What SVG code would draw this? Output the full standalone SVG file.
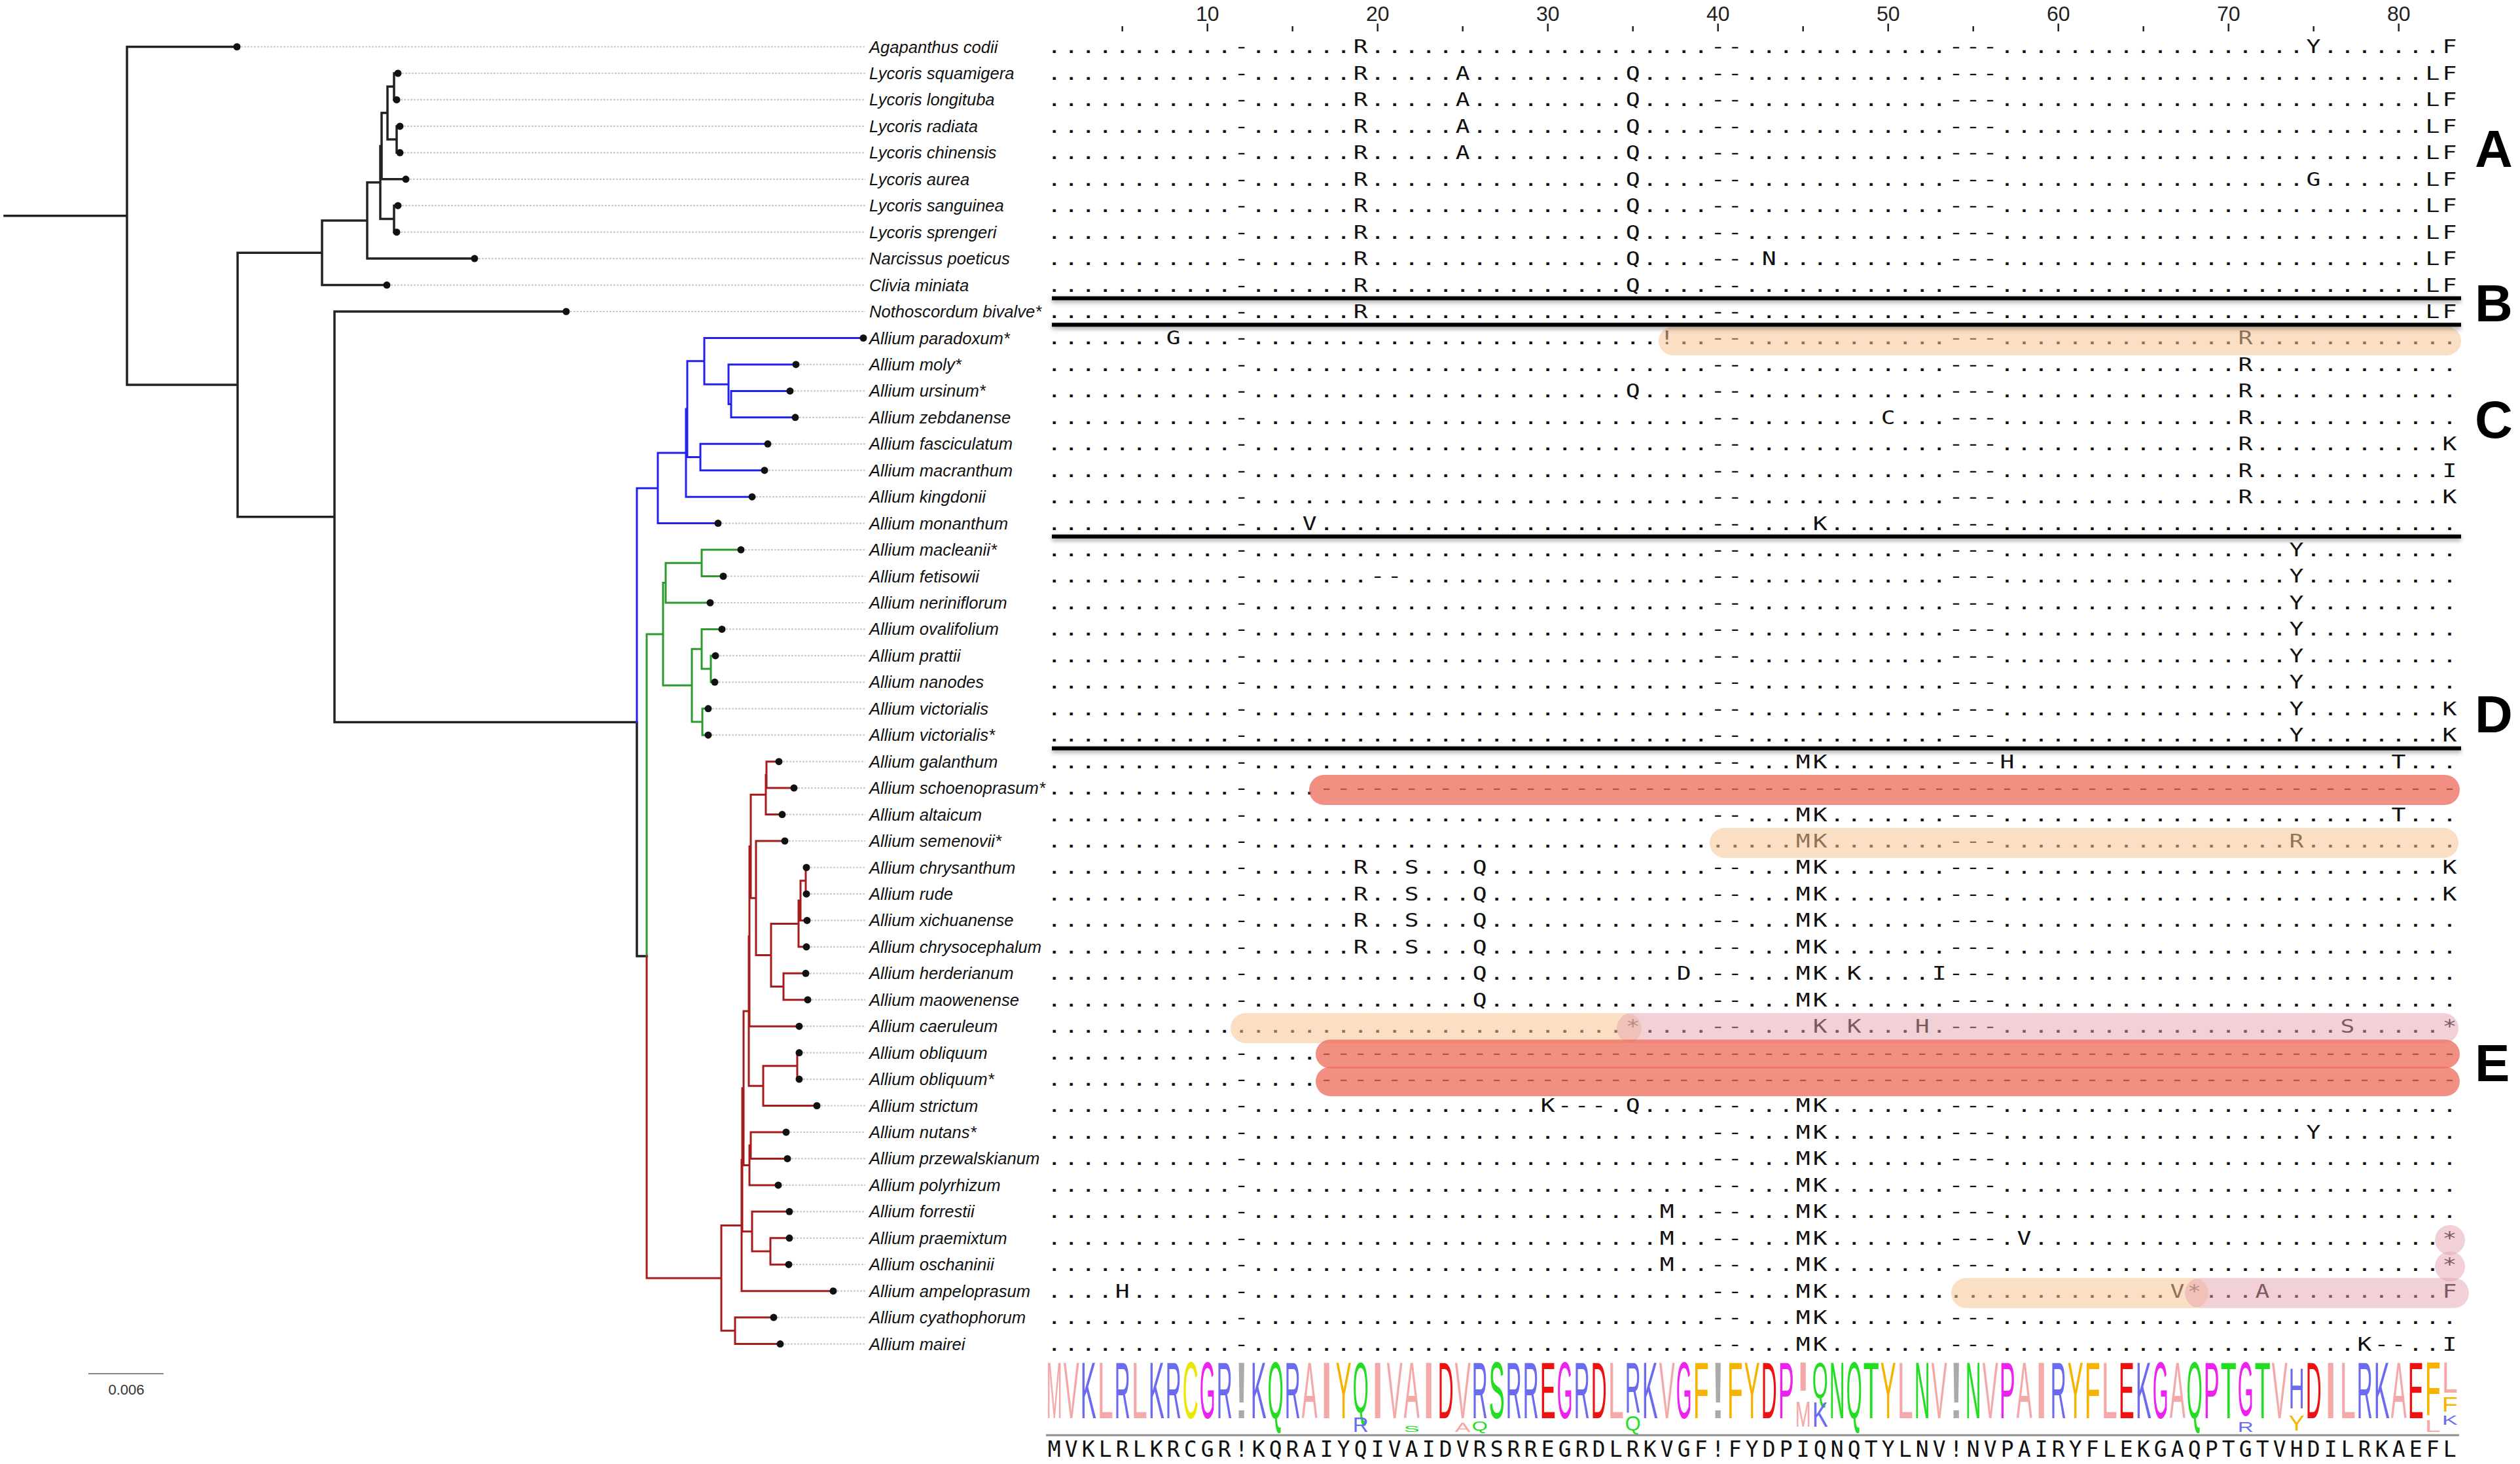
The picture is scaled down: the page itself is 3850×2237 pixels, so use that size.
<svg xmlns="http://www.w3.org/2000/svg" width="3850" height="2237" viewBox="0 0 3850 2237">
<defs>
<style>
.lab{font-family:"Liberation Sans",Arial,sans-serif;font-style:italic;font-size:25.6px;fill:#111}
.aln{font-family:"DejaVu Sans Mono",monospace;font-size:28px;letter-spacing:3.143px;fill:#111}
.num{font-family:"Liberation Sans",Arial,sans-serif;font-size:32px;fill:#222;text-anchor:middle}
.grp{font-family:"Liberation Sans",Arial,sans-serif;font-weight:bold;font-size:80px;fill:#000}
.lg{font-family:"Liberation Sans",Arial,sans-serif;font-size:24px}
.p{fill:#F5A8A8}.b{fill:#6B6BEF}.y{fill:#E8E800}.o{fill:#F5B400}.m{fill:#EE22EE}.r{fill:#EE1111}.g{fill:#22DD22}.x{fill:#AAAAAA}
.cons{font-family:"DejaVu Sans Mono",monospace;font-size:33px;letter-spacing:6.132px;fill:#111}
.pe{fill:#F7C594;fill-opacity:.55}
.pk{fill:#E3A3AE;fill-opacity:.5}
.rd{fill:#EC6B58;fill-opacity:.75}
.tip{fill:#111}
</style>
<filter id="sh" x="-2%" y="-20%" width="104%" height="140%"><feGaussianBlur stdDeviation="3"/></filter>
</defs>
<rect width="3850" height="2237" fill="#fff"/>

<g id="connectors" fill="none">
<path id="leaders" stroke="#cccccc" stroke-width="2.2" stroke-dasharray="3 2" d="M368,71.5H1322M614,112H1322M612,152.4H1322M617,192.9H1322M617,233.3H1322M626,273.8H1322M614,314.2H1322M612,354.7H1322M731,395.1H1322M597,435.6H1322M871,476H1322M1222,556.9H1322M1213,597.4H1322M1221,637.8H1322M1179,678.3H1322M1174,718.7H1322M1155,759.2H1322M1103,799.6H1322M1138,840.1H1322M1111,880.5H1322M1091,921H1322M1109,961.4H1322M1099,1001.9H1322M1098,1042.3H1322M1088,1082.8H1322M1088,1123.2H1322M1196,1163.7H1322M1219,1204.1H1322M1201,1244.6H1322M1205,1285H1322M1238,1325.5H1322M1238,1365.9H1322M1239,1406.4H1322M1238,1446.8H1322M1237,1487.3H1322M1240,1527.7H1322M1227,1568.2H1322M1227,1608.6H1322M1227,1649.1H1322M1254,1689.5H1322M1207,1730H1322M1209,1770.4H1322M1195,1810.9H1322M1212,1851.3H1322M1212,1891.8H1322M1211,1932.2H1322M1279,1972.7H1322M1188,2013.1H1322M1198,2053.6H1322"/>
<g stroke-linecap="square" stroke-linejoin="miter">
<path stroke="#222" stroke-width="3.5" d="M7,329.8H194M362,71.5H194V588H363M492,386.3H363V789.7H511M561,337H492V435.6H591M581,278.8H561V395.1H725M583,223.2H581V334.4H602M592,172.6H583V273.8H620M602,132.2H592V213.1H606M608,112H602V152.4H606M611,192.9H606V233.3H611M608,314.2H602V354.7H606M865,476H511V1103.4H973M973,1103.4V1460.9H988"/>
<path stroke="#2222EE" stroke-width="3" d="M973,1103.4V745.9H1005M1048,692.1H1005V799.6H1097M1050,625.1H1048V759.2H1149M1076,551.8H1050V698.5H1070M1319,516.5H1076V587.2H1113M1216,556.9H1113V617.6H1117M1207,597.4H1117V637.8H1215M1173,678.3H1070V718.7H1168"/>
<path stroke="#2E9A2E" stroke-width="3" d="M988,1460.9V968.9H1013M1017,890.6H1013V1047.3H1057M1072,860.3H1017V921H1085M1132,840.1H1072V880.5H1105M1072,991.7H1057V1103H1073M1103,961.4H1072V1022.1H1086M1093,1001.9H1086V1042.3H1092M1082,1082.8H1073V1123.2H1082"/>
<path stroke="#A61C1C" stroke-width="3" d="M988,1460.9V1952.9H1102M1133,1872.4H1102V2033.3H1123M1182,2013.1H1123V2053.6H1192M1134,1772.2H1133V1972.7H1273M1136,1662.8H1134V1881.7H1149M1206,1851.3H1149V1912H1177M1206,1891.8H1177V1932.2H1205M1144,1545H1136V1780.5H1145M1147,1750.2H1145V1810.9H1189M1201,1730H1147V1770.4H1203M1145,1430.7H1144V1659.2H1166M1218,1628.8H1166V1689.5H1248M1221,1608.6H1218V1649.1H1221M1147,1293.2H1145V1568.2H1221M1170,1214.2H1147V1372.2H1155M1199,1285H1155V1459.4H1178M1220,1411.4H1178V1507.5H1197M1231,1487.3H1197V1527.7H1234M1223,1376H1220V1446.8H1232M1231,1345.7H1223V1406.4H1233M1232,1325.5H1231V1365.9H1232M1171,1183.9H1170V1244.6H1195M1190,1163.7H1171V1204.1H1213"/>
</g>
</g>

<g id="header">
<path stroke="#222" stroke-width="2.5" fill="none" d="M1714.7,40V48M1844.7,36V48M1974.7,40V48M2104.7,36V48M2234.7,40V48M2364.7,36V48M2494.7,40V48M2624.7,36V48M2754.7,40V48M2884.7,36V48M3014.7,40V48M3144.7,36V48M3274.7,40V48M3404.7,36V48M3534.7,40V48M3664.7,36V48"/>
<text class="num" x="1844.7" y="32">10</text>
<text class="num" x="2104.7" y="32">20</text>
<text class="num" x="2364.7" y="32">30</text>
<text class="num" x="2624.7" y="32">40</text>
<text class="num" x="2884.7" y="32">50</text>
<text class="num" x="3144.7" y="32">60</text>
<text class="num" x="3404.7" y="32">70</text>
<text class="num" x="3664.7" y="32">80</text>
</g>

<g id="taxa">
<g id="t01"><circle class="tip" cx="362" cy="71.5" r="5.5"/><text class="lab" x="1328" y="80.5">Agapanthus codii</text><text class="aln" transform="scale(1.3,1)" x="1230.57" y="81.5">...........-......R....................--............---..................Y.......F</text></g>
<g id="t02"><circle class="tip" cx="608" cy="112" r="5.5"/><text class="lab" x="1328" y="121">Lycoris squamigera</text><text class="aln" transform="scale(1.3,1)" x="1230.57" y="122">...........-......R.....A.........Q....--............---.........................LF</text></g>
<g id="t03"><circle class="tip" cx="606" cy="152.4" r="5.5"/><text class="lab" x="1328" y="161.4">Lycoris longituba</text><text class="aln" transform="scale(1.3,1)" x="1230.57" y="162.4">...........-......R.....A.........Q....--............---.........................LF</text></g>
<g id="t04"><circle class="tip" cx="611" cy="192.9" r="5.5"/><text class="lab" x="1328" y="201.9">Lycoris radiata</text><text class="aln" transform="scale(1.3,1)" x="1230.57" y="202.9">...........-......R.....A.........Q....--............---.........................LF</text></g>
<g id="t05"><circle class="tip" cx="611" cy="233.3" r="5.5"/><text class="lab" x="1328" y="242.3">Lycoris chinensis</text><text class="aln" transform="scale(1.3,1)" x="1230.57" y="243.3">...........-......R.....A.........Q....--............---.........................LF</text></g>
<g id="t06"><circle class="tip" cx="620" cy="273.8" r="5.5"/><text class="lab" x="1328" y="282.8">Lycoris aurea</text><text class="aln" transform="scale(1.3,1)" x="1230.57" y="283.8">...........-......R...............Q....--............---..................G......LF</text></g>
<g id="t07"><circle class="tip" cx="608" cy="314.2" r="5.5"/><text class="lab" x="1328" y="323.2">Lycoris sanguinea</text><text class="aln" transform="scale(1.3,1)" x="1230.57" y="324.2">...........-......R...............Q....--............---.........................LF</text></g>
<g id="t08"><circle class="tip" cx="606" cy="354.7" r="5.5"/><text class="lab" x="1328" y="363.7">Lycoris sprengeri</text><text class="aln" transform="scale(1.3,1)" x="1230.57" y="364.7">...........-......R...............Q....--............---.........................LF</text></g>
<g id="t09"><circle class="tip" cx="725" cy="395.1" r="5.5"/><text class="lab" x="1328" y="404.1">Narcissus poeticus</text><text class="aln" transform="scale(1.3,1)" x="1230.57" y="405.1">...........-......R...............Q....--.N..........---.........................LF</text></g>
<g id="t10"><circle class="tip" cx="591" cy="435.6" r="5.5"/><text class="lab" x="1328" y="444.6">Clivia miniata</text><text class="aln" transform="scale(1.3,1)" x="1230.57" y="445.6">...........-......R...............Q....--............---.........................LF</text></g>
<g id="t11"><circle class="tip" cx="865" cy="476" r="5.5"/><text class="lab" x="1328" y="485">Nothoscordum bivalve*</text><text class="aln" transform="scale(1.3,1)" x="1230.57" y="486">...........-......R....................--............---.........................LF</text></g>
<g id="t12"><circle class="tip" cx="1319" cy="516.5" r="5.5"/><text class="lab" x="1328" y="525.5">Allium paradoxum*</text><text class="aln" transform="scale(1.3,1)" x="1230.57" y="526.5">.......G...-........................!..--............---..............R............</text></g>
<g id="t13"><circle class="tip" cx="1216" cy="556.9" r="5.5"/><text class="lab" x="1328" y="565.9">Allium moly*</text><text class="aln" transform="scale(1.3,1)" x="1230.57" y="566.9">...........-...........................--............---..............R............</text></g>
<g id="t14"><circle class="tip" cx="1207" cy="597.4" r="5.5"/><text class="lab" x="1328" y="606.4">Allium ursinum*</text><text class="aln" transform="scale(1.3,1)" x="1230.57" y="607.4">...........-......................Q....--............---..............R............</text></g>
<g id="t15"><circle class="tip" cx="1215" cy="637.8" r="5.5"/><text class="lab" x="1328" y="646.8">Allium zebdanense</text><text class="aln" transform="scale(1.3,1)" x="1230.57" y="647.8">...........-...........................--........C...---..............R............</text></g>
<g id="t16"><circle class="tip" cx="1173" cy="678.3" r="5.5"/><text class="lab" x="1328" y="687.3">Allium fasciculatum</text><text class="aln" transform="scale(1.3,1)" x="1230.57" y="688.3">...........-...........................--............---..............R...........K</text></g>
<g id="t17"><circle class="tip" cx="1168" cy="718.7" r="5.5"/><text class="lab" x="1328" y="727.7">Allium macranthum</text><text class="aln" transform="scale(1.3,1)" x="1230.57" y="728.7">...........-...........................--............---..............R...........I</text></g>
<g id="t18"><circle class="tip" cx="1149" cy="759.2" r="5.5"/><text class="lab" x="1328" y="768.2">Allium kingdonii</text><text class="aln" transform="scale(1.3,1)" x="1230.57" y="769.2">...........-...........................--............---..............R...........K</text></g>
<g id="t19"><circle class="tip" cx="1097" cy="799.6" r="5.5"/><text class="lab" x="1328" y="808.6">Allium monanthum</text><text class="aln" transform="scale(1.3,1)" x="1230.57" y="809.6">...........-...V.......................--....K.......---...........................</text></g>
<g id="t20"><circle class="tip" cx="1132" cy="840.1" r="5.5"/><text class="lab" x="1328" y="849.1">Allium macleanii*</text><text class="aln" transform="scale(1.3,1)" x="1230.57" y="850.1">...........-...........................--............---.................Y.........</text></g>
<g id="t21"><circle class="tip" cx="1105" cy="880.5" r="5.5"/><text class="lab" x="1328" y="889.5">Allium fetisowii</text><text class="aln" transform="scale(1.3,1)" x="1230.57" y="890.5">...........-.......--..................--............---.................Y.........</text></g>
<g id="t22"><circle class="tip" cx="1085" cy="921" r="5.5"/><text class="lab" x="1328" y="930">Allium neriniflorum</text><text class="aln" transform="scale(1.3,1)" x="1230.57" y="931">...........-...........................--............---.................Y.........</text></g>
<g id="t23"><circle class="tip" cx="1103" cy="961.4" r="5.5"/><text class="lab" x="1328" y="970.4">Allium ovalifolium</text><text class="aln" transform="scale(1.3,1)" x="1230.57" y="971.4">...........-...........................--............---.................Y.........</text></g>
<g id="t24"><circle class="tip" cx="1093" cy="1001.9" r="5.5"/><text class="lab" x="1328" y="1010.9">Allium prattii</text><text class="aln" transform="scale(1.3,1)" x="1230.57" y="1011.9">...........-...........................--............---.................Y.........</text></g>
<g id="t25"><circle class="tip" cx="1092" cy="1042.3" r="5.5"/><text class="lab" x="1328" y="1051.3">Allium nanodes</text><text class="aln" transform="scale(1.3,1)" x="1230.57" y="1052.3">...........-...........................--............---.................Y.........</text></g>
<g id="t26"><circle class="tip" cx="1082" cy="1082.8" r="5.5"/><text class="lab" x="1328" y="1091.8">Allium victorialis</text><text class="aln" transform="scale(1.3,1)" x="1230.57" y="1092.8">...........-...........................--............---.................Y........K</text></g>
<g id="t27"><circle class="tip" cx="1082" cy="1123.2" r="5.5"/><text class="lab" x="1328" y="1132.2">Allium victorialis*</text><text class="aln" transform="scale(1.3,1)" x="1230.57" y="1133.2">...........-...........................--............---.................Y........K</text></g>
<g id="t28"><circle class="tip" cx="1190" cy="1163.7" r="5.5"/><text class="lab" x="1328" y="1172.7">Allium galanthum</text><text class="aln" transform="scale(1.3,1)" x="1230.57" y="1173.7">...........-...........................--...MK.......---H......................T...</text></g>
<g id="t29"><circle class="tip" cx="1213" cy="1204.1" r="5.5"/><text class="lab" x="1328" y="1213.1">Allium schoenoprasum*</text><text class="aln" transform="scale(1.3,1)" x="1230.57" y="1214.1">...........-....-------------------------------------------------------------------</text></g>
<g id="t30"><circle class="tip" cx="1195" cy="1244.6" r="5.5"/><text class="lab" x="1328" y="1253.6">Allium altaicum</text><text class="aln" transform="scale(1.3,1)" x="1230.57" y="1254.6">...........-...........................--...MK.......---.......................T...</text></g>
<g id="t31"><circle class="tip" cx="1199" cy="1285" r="5.5"/><text class="lab" x="1328" y="1294">Allium semenovii*</text><text class="aln" transform="scale(1.3,1)" x="1230.57" y="1295">...........-................................MK.......---.................R.........</text></g>
<g id="t32"><circle class="tip" cx="1232" cy="1325.5" r="5.5"/><text class="lab" x="1328" y="1334.5">Allium chrysanthum</text><text class="aln" transform="scale(1.3,1)" x="1230.57" y="1335.5">...........-......R..S...Q.............--...MK.......---..........................K</text></g>
<g id="t33"><circle class="tip" cx="1232" cy="1365.9" r="5.5"/><text class="lab" x="1328" y="1374.9">Allium rude</text><text class="aln" transform="scale(1.3,1)" x="1230.57" y="1375.9">...........-......R..S...Q.............--...MK.......---..........................K</text></g>
<g id="t34"><circle class="tip" cx="1233" cy="1406.4" r="5.5"/><text class="lab" x="1328" y="1415.4">Allium xichuanense</text><text class="aln" transform="scale(1.3,1)" x="1230.57" y="1416.4">...........-......R..S...Q.............--...MK.......---...........................</text></g>
<g id="t35"><circle class="tip" cx="1232" cy="1446.8" r="5.5"/><text class="lab" x="1328" y="1455.8">Allium chrysocephalum</text><text class="aln" transform="scale(1.3,1)" x="1230.57" y="1456.8">...........-......R..S...Q.............--...MK.......---...........................</text></g>
<g id="t36"><circle class="tip" cx="1231" cy="1487.3" r="5.5"/><text class="lab" x="1328" y="1496.3">Allium herderianum</text><text class="aln" transform="scale(1.3,1)" x="1230.57" y="1497.3">...........-.............Q...........D.--...MK.K....I---...........................</text></g>
<g id="t37"><circle class="tip" cx="1234" cy="1527.7" r="5.5"/><text class="lab" x="1328" y="1536.7">Allium maowenense</text><text class="aln" transform="scale(1.3,1)" x="1230.57" y="1537.7">...........-.............Q.............--...MK.......---...........................</text></g>
<g id="t38"><circle class="tip" cx="1221" cy="1568.2" r="5.5"/><text class="lab" x="1328" y="1577.2">Allium caeruleum</text><text class="aln" transform="scale(1.3,1)" x="1230.57" y="1578.2">..................................*....--....K.K...H.---....................S.....*</text></g>
<g id="t39"><circle class="tip" cx="1221" cy="1608.6" r="5.5"/><text class="lab" x="1328" y="1617.6">Allium obliquum</text><text class="aln" transform="scale(1.3,1)" x="1230.57" y="1618.6">...........-....-------------------------------------------------------------------</text></g>
<g id="t40"><circle class="tip" cx="1221" cy="1649.1" r="5.5"/><text class="lab" x="1328" y="1658.1">Allium obliquum*</text><text class="aln" transform="scale(1.3,1)" x="1230.57" y="1659.1">...........-....-------------------------------------------------------------------</text></g>
<g id="t41"><circle class="tip" cx="1248" cy="1689.5" r="5.5"/><text class="lab" x="1328" y="1698.5">Allium strictum</text><text class="aln" transform="scale(1.3,1)" x="1230.57" y="1699.5">...........-.................K---.Q....--...MK.......---...........................</text></g>
<g id="t42"><circle class="tip" cx="1201" cy="1730" r="5.5"/><text class="lab" x="1328" y="1739">Allium nutans*</text><text class="aln" transform="scale(1.3,1)" x="1230.57" y="1740">...........-...........................--...MK.......---..................Y........</text></g>
<g id="t43"><circle class="tip" cx="1203" cy="1770.4" r="5.5"/><text class="lab" x="1328" y="1779.4">Allium przewalskianum</text><text class="aln" transform="scale(1.3,1)" x="1230.57" y="1780.4">...........-...........................--...MK.......---...........................</text></g>
<g id="t44"><circle class="tip" cx="1189" cy="1810.9" r="5.5"/><text class="lab" x="1328" y="1819.9">Allium polyrhizum</text><text class="aln" transform="scale(1.3,1)" x="1230.57" y="1820.9">...........-...........................--...MK.......---...........................</text></g>
<g id="t45"><circle class="tip" cx="1206" cy="1851.3" r="5.5"/><text class="lab" x="1328" y="1860.3">Allium forrestii</text><text class="aln" transform="scale(1.3,1)" x="1230.57" y="1861.3">...........-........................M..--...MK.......---...........................</text></g>
<g id="t46"><circle class="tip" cx="1206" cy="1891.8" r="5.5"/><text class="lab" x="1328" y="1900.8">Allium praemixtum</text><text class="aln" transform="scale(1.3,1)" x="1230.57" y="1901.8">...........-........................M..--...MK.......---.V........................*</text></g>
<g id="t47"><circle class="tip" cx="1205" cy="1932.2" r="5.5"/><text class="lab" x="1328" y="1941.2">Allium oschaninii</text><text class="aln" transform="scale(1.3,1)" x="1230.57" y="1942.2">...........-........................M..--...MK.......---..........................*</text></g>
<g id="t48"><circle class="tip" cx="1273" cy="1972.7" r="5.5"/><text class="lab" x="1328" y="1981.7">Allium ampeloprasum</text><text class="aln" transform="scale(1.3,1)" x="1230.57" y="1982.7">....H......-...........................--...MK....................V*...A..........F</text></g>
<g id="t49"><circle class="tip" cx="1182" cy="2013.1" r="5.5"/><text class="lab" x="1328" y="2022.1">Allium cyathophorum</text><text class="aln" transform="scale(1.3,1)" x="1230.57" y="2023.1">...........-...........................--...MK.......---...........................</text></g>
<g id="t50"><circle class="tip" cx="1192" cy="2053.6" r="5.5"/><text class="lab" x="1328" y="2062.6">Allium mairei</text><text class="aln" transform="scale(1.3,1)" x="1230.57" y="2063.6">...........-...........................--...MK.......---.....................K--..I</text></g>
</g>

<g id="highlights">
<rect class="pe" x="2534" y="499" width="1226" height="44" rx="22"/>
<rect class="rd" x="2000" y="1184" width="1758" height="46" rx="23"/>
<rect class="pe" x="2612" y="1265" width="1144" height="46" rx="23"/>
<rect class="pe" x="1880" y="1548" width="628" height="46" rx="23"/>
<rect class="pk" x="2470" y="1548" width="1286" height="46" rx="23"/>
<rect class="rd" x="2010" y="1588.5" width="1748" height="44" rx="22"/>
<rect class="rd" x="2010" y="1630" width="1748" height="45" rx="22.5"/>
<circle class="pk" cx="3743" cy="1894.8" r="23"/>
<circle class="pk" cx="3743" cy="1935.2" r="23"/>
<rect class="pe" x="2981" y="1952.7" width="393" height="46" rx="23"/>
<rect class="pk" x="3338" y="1952.7" width="434" height="46" rx="23"/>
</g>

<g id="separators">
<path fill="none" stroke="#000" stroke-opacity=".3" stroke-width="8" filter="url(#sh)" transform="translate(0,3)" d="M1607,455.8H3760M1607,496.2H3760M1607,819.8H3760M1607,1143.4H3760"/>
<path fill="none" stroke="#000" stroke-width="6" d="M1607,455.8H3760M1607,496.2H3760M1607,819.8H3760M1607,1143.4H3760"/>
</g>

<g id="clade-labels">
<text class="grp" x="3781" y="255">A</text>
<text class="grp" x="3781" y="491">B</text>
<text class="grp" x="3781" y="669">C</text>
<text class="grp" x="3781" y="1119">D</text>
<text class="grp" x="3781" y="1652">E</text>
</g>

<g id="logo" class="lg">
<text class="p" transform="matrix(1.2005,0,0,5.0625,1598.7,2167)">M</text>
<text class="p" transform="matrix(1.4993,0,0,5.0625,1624.7,2167)">V</text>
<text class="b" transform="matrix(1.4993,0,0,5.0625,1650.7,2167)">K</text>
<text class="p" transform="matrix(1.7986,0,0,5.0625,1676.7,2167)">L</text>
<text class="b" transform="matrix(1.385,0,0,5.0625,1702.7,2167)">R</text>
<text class="p" transform="matrix(1.7986,0,0,5.0625,1728.7,2167)">L</text>
<text class="b" transform="matrix(1.4993,0,0,5.0625,1754.7,2167)">K</text>
<text class="b" transform="matrix(1.385,0,0,5.0625,1780.7,2167)">R</text>
<text class="y" transform="matrix(1.385,0,0,5.0625,1806.7,2167)">C</text>
<text class="m" transform="matrix(1.2853,0,0,5.0625,1832.7,2167)">G</text>
<text class="b" transform="matrix(1.385,0,0,5.0625,1858.7,2167)">R</text>
<text class="x" transform="matrix(3.5971,0,0,5.0625,1884.7,2167)">!</text>
<text class="b" transform="matrix(1.4993,0,0,5.0625,1910.7,2167)">K</text>
<text class="g" transform="matrix(1.2853,0,0,5.0625,1936.7,2167)">Q</text>
<text class="b" transform="matrix(1.385,0,0,5.0625,1962.7,2167)">R</text>
<text class="p" transform="matrix(1.4993,0,0,5.0625,1988.7,2167)">A</text>
<text class="p" transform="matrix(3.5971,0,0,5.0625,2014.7,2167)">I</text>
<text class="o" transform="matrix(1.4993,0,0,5.0625,2040.7,2167)">Y</text>
<text class="g" transform="matrix(1.2853,0,0,4.5417,2066.7,2158)">Q</text>
<text class="b" transform="matrix(1.385,0,0,1.2792,2066.7,2188)">R</text>
<text class="p" transform="matrix(3.5971,0,0,5.0625,2092.7,2167)">I</text>
<text class="p" transform="matrix(1.4993,0,0,5.0625,2118.7,2167)">V</text>
<text class="p" transform="matrix(1.4993,0,0,5.0625,2144.7,2167)">A</text>
<text class="g" transform="matrix(1.4993,0,0,0.525,2144.7,2188)">S</text>
<text class="p" transform="matrix(3.5971,0,0,5.0625,2170.7,2167)">I</text>
<text class="r" transform="matrix(1.385,0,0,5.0625,2196.7,2167)">D</text>
<text class="p" transform="matrix(1.4993,0,0,5.0625,2222.7,2167)">V</text>
<text class="p" transform="matrix(1.4993,0,0,0.8167,2222.7,2188)">A</text>
<text class="b" transform="matrix(1.385,0,0,5.0625,2248.7,2167)">R</text>
<text class="g" transform="matrix(1.2853,0,0,0.875,2248.7,2186)">Q</text>
<text class="g" transform="matrix(1.4993,0,0,5.0625,2274.7,2167)">S</text>
<text class="b" transform="matrix(1.385,0,0,5.0625,2300.7,2167)">R</text>
<text class="b" transform="matrix(1.385,0,0,5.0625,2326.7,2167)">R</text>
<text class="r" transform="matrix(1.4993,0,0,5.0625,2352.7,2167)">E</text>
<text class="m" transform="matrix(1.2853,0,0,5.0625,2378.7,2167)">G</text>
<text class="b" transform="matrix(1.385,0,0,5.0625,2404.7,2167)">R</text>
<text class="r" transform="matrix(1.385,0,0,5.0625,2430.7,2167)">D</text>
<text class="p" transform="matrix(1.7986,0,0,5.0625,2456.7,2167)">L</text>
<text class="b" transform="matrix(1.385,0,0,4.5417,2482.7,2158)">R</text>
<text class="g" transform="matrix(1.2853,0,0,1.2792,2482.7,2186)">Q</text>
<text class="b" transform="matrix(1.4993,0,0,5.0625,2508.7,2167)">K</text>
<text class="p" transform="matrix(1.4993,0,0,5.0625,2534.7,2167)">V</text>
<text class="m" transform="matrix(1.2853,0,0,5.0625,2560.7,2167)">G</text>
<text class="o" transform="matrix(1.6367,0,0,5.0625,2586.7,2167)">F</text>
<text class="x" transform="matrix(3.5971,0,0,5.0625,2612.7,2167)">!</text>
<text class="o" transform="matrix(1.6367,0,0,5.0625,2638.7,2167)">F</text>
<text class="o" transform="matrix(1.4993,0,0,5.0625,2664.7,2167)">Y</text>
<text class="r" transform="matrix(1.385,0,0,5.0625,2690.7,2167)">D</text>
<text class="m" transform="matrix(1.4993,0,0,5.0625,2716.7,2167)">P</text>
<text class="p" transform="matrix(3.5971,0,0,2.6167,2742.7,2125)">I</text>
<text class="p" transform="matrix(1.2005,0,0,2.3292,2742.7,2180)">M</text>
<text class="g" transform="matrix(1.2853,0,0,3.2583,2768.7,2136)">Q</text>
<text class="b" transform="matrix(1.4993,0,0,2.2083,2768.7,2180)">K</text>
<text class="g" transform="matrix(1.385,0,0,5.0625,2794.7,2167)">N</text>
<text class="g" transform="matrix(1.2853,0,0,5.0625,2820.7,2167)">Q</text>
<text class="g" transform="matrix(1.6367,0,0,5.0625,2846.7,2167)">T</text>
<text class="o" transform="matrix(1.4993,0,0,5.0625,2872.7,2167)">Y</text>
<text class="p" transform="matrix(1.7986,0,0,5.0625,2898.7,2167)">L</text>
<text class="g" transform="matrix(1.385,0,0,5.0625,2924.7,2167)">N</text>
<text class="p" transform="matrix(1.4993,0,0,5.0625,2950.7,2167)">V</text>
<text class="x" transform="matrix(3.5971,0,0,5.0625,2976.7,2167)">!</text>
<text class="g" transform="matrix(1.385,0,0,5.0625,3002.7,2167)">N</text>
<text class="p" transform="matrix(1.4993,0,0,5.0625,3028.7,2167)">V</text>
<text class="m" transform="matrix(1.4993,0,0,5.0625,3054.7,2167)">P</text>
<text class="p" transform="matrix(1.4993,0,0,5.0625,3080.7,2167)">A</text>
<text class="p" transform="matrix(3.5971,0,0,5.0625,3106.7,2167)">I</text>
<text class="b" transform="matrix(1.385,0,0,5.0625,3132.7,2167)">R</text>
<text class="o" transform="matrix(1.4993,0,0,5.0625,3158.7,2167)">Y</text>
<text class="o" transform="matrix(1.6367,0,0,5.0625,3184.7,2167)">F</text>
<text class="p" transform="matrix(1.7986,0,0,5.0625,3210.7,2167)">L</text>
<text class="r" transform="matrix(1.4993,0,0,5.0625,3236.7,2167)">E</text>
<text class="b" transform="matrix(1.4993,0,0,5.0625,3262.7,2167)">K</text>
<text class="m" transform="matrix(1.2853,0,0,5.0625,3288.7,2167)">G</text>
<text class="p" transform="matrix(1.4993,0,0,5.0625,3314.7,2167)">A</text>
<text class="g" transform="matrix(1.2853,0,0,5.0625,3340.7,2167)">Q</text>
<text class="m" transform="matrix(1.4993,0,0,5.0625,3366.7,2167)">P</text>
<text class="g" transform="matrix(1.6367,0,0,5.0625,3392.7,2167)">T</text>
<text class="m" transform="matrix(1.2853,0,0,4.8333,3418.7,2163)">G</text>
<text class="b" transform="matrix(1.385,0,0,0.9292,3418.7,2188)">R</text>
<text class="g" transform="matrix(1.6367,0,0,5.0625,3444.7,2167)">T</text>
<text class="p" transform="matrix(1.4993,0,0,5.0625,3470.7,2167)">V</text>
<text class="b" transform="matrix(1.385,0,0,3.6083,3496.7,2152)">H</text>
<text class="o" transform="matrix(1.4993,0,0,1.3958,3496.7,2186)">Y</text>
<text class="r" transform="matrix(1.385,0,0,5.0625,3522.7,2167)">D</text>
<text class="p" transform="matrix(3.5971,0,0,5.0625,3548.7,2167)">I</text>
<text class="p" transform="matrix(1.7986,0,0,5.0625,3574.7,2167)">L</text>
<text class="b" transform="matrix(1.385,0,0,5.0625,3600.7,2167)">R</text>
<text class="b" transform="matrix(1.4993,0,0,5.0625,3626.7,2167)">K</text>
<text class="p" transform="matrix(1.4993,0,0,5.0625,3652.7,2167)">A</text>
<text class="r" transform="matrix(1.4993,0,0,5.0625,3678.7,2167)">E</text>
<text class="o" transform="matrix(1.6367,0,0,4.8333,3704.7,2163)">F</text>
<text class="p" transform="matrix(1.7986,0,0,1.0417,3704.7,2188)">L</text>
<text class="p" transform="matrix(1.7986,0,0,2.7917,3730.7,2128)">L</text>
<text class="o" transform="matrix(1.6367,0,0,1.2792,3730.7,2157)">F</text>
<text class="b" transform="matrix(1.4993,0,0,0.8167,3730.7,2177)">K</text>
<path d="M1598,2193H3757" stroke="#8c8c8c" stroke-width="3" fill="none"/>
</g>

<g id="consensus">
<text class="cons" x="1600.77" y="2226">MVKLRLKRCGR!KQRAIYQIVAIDVRSRREGRDLRKVGF!FYDPIQNQTYLNV!NVPAIRYFLEKGAQPTGTVHDILRKAEFL</text>
</g>

<g id="scalebar">
<path d="M135,2099H250" stroke="#888" stroke-width="2" fill="none"/>
<text x="193" y="2131" text-anchor="middle" font-family="Liberation Sans, Arial, sans-serif" font-size="22" fill="#333">0.006</text>
</g>
</svg>
